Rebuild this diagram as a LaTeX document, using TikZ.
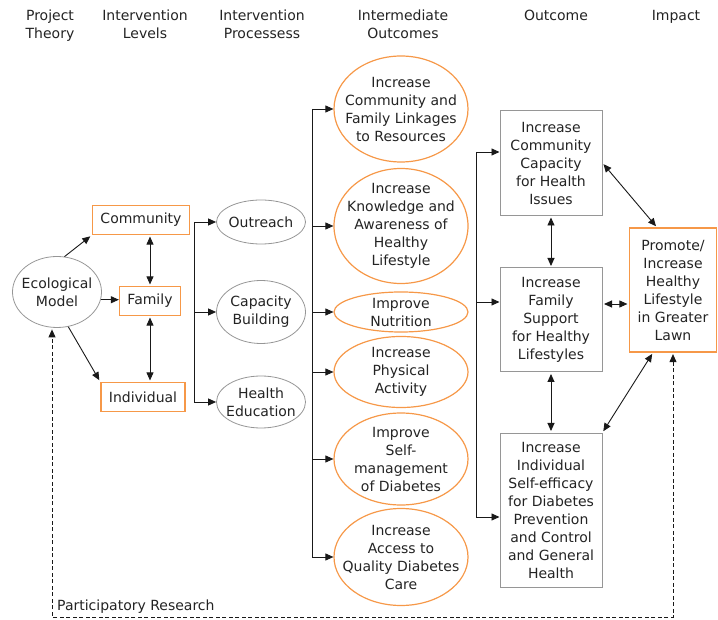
\documentclass[tikz,border=0pt]{standalone}
\usepackage{fontspec}
\setmainfont{DejaVu Sans}
\usepackage{tikz}
\usetikzlibrary{positioning,arrows.meta,shapes.geometric}
\definecolor{morange}{RGB}{246,152,72}
\definecolor{mgray}{RGB}{150,150,150}
\definecolor{mtext}{RGB}{35,35,35}
\definecolor{mline}{RGB}{25,25,25}

\begin{document}
\begin{tikzpicture}[x=1pt, y=-1pt, font=\fontsize{14}{18}\selectfont, text=mtext,
  every label/.style={align=center, inner sep=0pt},
  hdr/.style={align=center, anchor=north, inner sep=0pt},
  lvl/.style={draw=morange, line width=1.2pt, minimum height=29pt, inner xsep=8pt},
  proc/.style={ellipse, draw=mgray, line width=0.8pt, minimum width=89pt},
  mid/.style={ellipse, draw=morange, line width=1.2pt, minimum width=134pt},
  res/.style={draw=mgray, line width=1pt, align=center, minimum width=102pt, inner sep=2pt},
  arr/.style={draw=mline, line width=0.9pt, -{Triangle[length=8pt,width=7pt]}},
  dbl/.style={draw=mline, line width=0.9pt, {Triangle[length=8pt,width=7pt]}-{Triangle[length=8pt,width=7pt]}, shorten <=1.5pt, shorten >=1.5pt},
  feedback/.style={dbl, dash pattern=on 4pt off 2.5pt}]
\useasboundingbox (0,0) rectangle (718,620);
% Kopfzeile
\node[hdr] (hTheory) at (50,10) {Project\\Theory};
\node[hdr] (hLevels) at (145,10) {Intervention\\Levels};
\node[hdr] (hProc) at (262,10) {Intervention\\Processess};
\node[hdr] (hMid) at (403,10) {Intermediate\\Outcomes};
\node[hdr] (hOut) at (556,10) {Outcome};
\node[hdr] (hImpact) at (676,10) {Impact};
% Theorie und Ebenen
\node[proc, minimum height=71pt, label=center:{Ecological\\Model}] (eco) at (57,292) {};
\node[lvl] (community) at (141,220) {Community};
\node[lvl] (family) at (150,301) {Family};
\node[lvl] (individual) at (143,397) {Individual};
% Prozesse
\node[proc, minimum height=44pt, label=center:Outreach] (outreach) at (261,222) {};
\node[proc, minimum height=63pt, label=center:{Capacity\\Building}] (capacity) at (261,312) {};
\node[proc, minimum height=52pt, label=center:{Health\\Education}] (healthedu) at (261,402) {};
% Zwischenergebnisse
\node[mid, minimum height=106pt, label=center:{Increase\\Community and\\Family Linkages\\to Resources}] (linkages) at (401,109) {};
\node[mid, minimum height=115pt, label=center:{Increase\\Knowledge and\\Awareness of\\Healthy\\Lifestyle}] (knowledge) at (401,226) {};
\node[mid, minimum height=40pt, label=center:{Improve\\Nutrition}] (nutrition) at (401,312) {};
\node[mid, minimum height=71pt, label=center:{Increase\\Physical\\Activity}] (physical) at (401,372) {};
\node[mid, minimum height=92pt, label=center:{Improve\\Self-\\management\\of Diabetes}] (selfmgmt) at (401,459) {};
\node[mid, minimum height=97pt, label=center:{Increase\\Access to\\Quality Diabetes\\Care}] (access) at (401,557) {};
% Ergebnisse
\node[res, minimum height=105pt] (commcap) at (551,163) {Increase\\Community\\Capacity\\for Health\\Issues};
\node[res, minimum height=104pt] (famsup) at (551,320) {Increase\\Family\\Support\\for Healthy\\Lifestyles};
\node[res, minimum height=154pt] (selfeff) at (551,510) {Increase\\Individual\\Self-efficacy\\for Diabetes\\Prevention\\and Control\\and General\\Health};
% Wirkung
\node[res, draw=morange, line width=1.2pt, minimum width=87pt, minimum height=124pt] (impact) at (673,290) {Promote/\\Increase\\Healthy\\Lifestyle\\in Greater\\Lawn};
% Verzweigungen
\coordinate (fork1) at (194,0);
\coordinate (fork2) at (312,0);
\coordinate (fork3) at (476,0);
\coordinate (loopbot) at (0,617);
\path ([yshift=11pt]commcap.west) coordinate (inCap)
      ([yshift=18pt]famsup.west) coordinate (inFam)
      ([yshift=-7pt]selfeff.west) coordinate (inEff);
\draw[mline, line width=0.9pt] (outreach -| fork1) -- (healthedu -| fork1);
\foreach \n in {outreach,capacity,healthedu} \draw[arr] (\n -| fork1) -- (\n);
\draw[mline, line width=0.9pt] (linkages -| fork2) -- (access -| fork2);
\foreach \n in {linkages,knowledge,nutrition,physical,selfmgmt,access} \draw[arr] (\n -| fork2) -- (\n);
\draw[mline, line width=0.9pt] (inCap -| fork3) -- (inEff -| fork3);
\foreach \n in {inCap,inFam,inEff} \draw[arr] (\n -| fork3) -- (\n);
% Pfeile links
\draw[arr, shorten >=2pt] (eco.78) -- (community.south west);
\draw[arr] (eco.-10) -- (eco.-10 -| family.west);
\draw[arr, shorten >=2pt] (eco.-72) -- (individual.north west);
\draw[dbl] (family.north |- community.south) -- (family.north);
\draw[dbl] (family.south) -- (family.south |- individual.north);
% Pfeile rechts
\draw[dbl] (commcap) -- (famsup);
\draw[dbl] (famsup) -- (selfeff);
\draw[dbl] (commcap.east) -- ([xshift=-16pt]impact.north);
\draw[dbl] ([yshift=16pt]famsup.east) -- ([yshift=16pt]famsup.east -| impact.west);
\draw[dbl] (selfeff.north east) -- ([xshift=-20pt]impact.south);
% Rueckkopplung
\draw[feedback] (impact.south) -- (impact.south |- loopbot) -| ([xshift=-5pt]eco.south);
\node[anchor=west, inner sep=0pt] (partres) at (57,607) {Participatory Research};
\end{tikzpicture}
\end{document}
